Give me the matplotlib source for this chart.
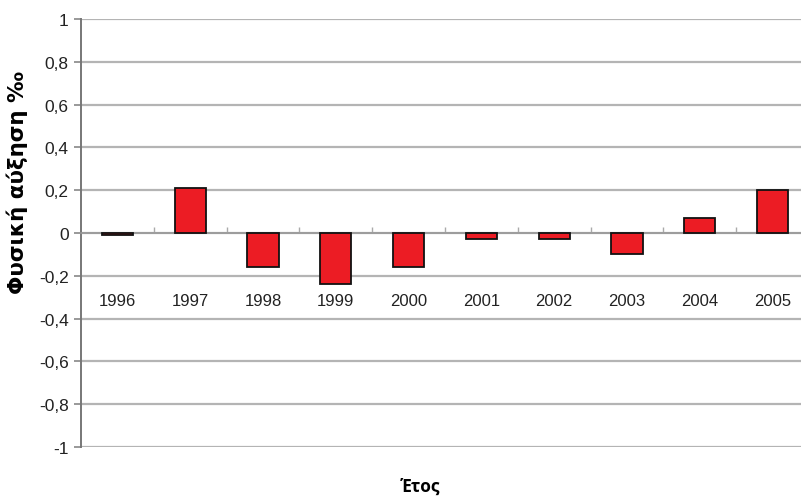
import matplotlib
matplotlib.use("Agg")
import matplotlib.pyplot as plt
from matplotlib.ticker import FuncFormatter, FixedLocator
import numpy as np

# Natural increase per year (per mille)
years = ["1996", "1997", "1998", "1999", "2000",
         "2001", "2002", "2003", "2004", "2005"]
growth = [-0.01, 0.21, -0.16, -0.24, -0.16,
          -0.03, -0.03, -0.10, 0.07, 0.20]

y_ticks = [-1, -0.8, -0.6, -0.4, -0.2, 0, 0.2, 0.4, 0.6, 0.8, 1]

plt.rcParams['font.family'] = ['Liberation Sans', 'DejaVu Sans']

fig = plt.figure(figsize=(8.01, 5.02), dpi=100)
ax = fig.add_axes([81 / 801, 54 / 502, 728 / 801, 428 / 502])

x = np.arange(len(years))
ax.bar(x, growth, width=0.43, color='#ec1c24', edgecolor='#111111',
       linewidth=1.3, zorder=3)

ax.set_xlim(-0.5, len(years) - 0.5)
ax.set_ylim(-1, 1)

# horizontal gridlines
ax.set_yticks(y_ticks)
ax.yaxis.set_major_formatter(
    FuncFormatter(lambda v, p: ('%g' % round(v, 1)).replace('.', ',')))
ax.grid(axis='y', color='#b4b4b4', linewidth=1.6, zorder=0)
ax.tick_params(axis='y', length=5, width=1.2, color='#888888',
               labelsize=12.5, labelcolor='#222222', pad=4)

# category axis at zero, labels pushed below
ax.spines['bottom'].set_position(('data', 0))
ax.spines['bottom'].set_color('#999999')
ax.spines['bottom'].set_linewidth(1.2)
ax.set_xticks(x)
ax.set_xticklabels(years)
ax.xaxis.set_minor_locator(FixedLocator(x[:-1] + 0.5))
ax.tick_params(axis='x', which='major', length=0, pad=43,
               labelsize=12, labelcolor='#222222')
ax.tick_params(axis='x', which='minor', length=4, width=1.0,
               color='#aaaaaa', direction='in')

ax.spines['left'].set_color('#777777')
ax.spines['left'].set_linewidth(1.4)
ax.spines['top'].set_visible(False)
ax.spines['right'].set_visible(False)
ax.axhline(-1, color='#8c8c8c', linewidth=2.0, zorder=1)

ax.set_ylabel('Φυσική αύξηση ‰', fontsize=15.5, fontweight='bold',
              family=['DejaVu Sans'])
ax.yaxis.set_label_coords((28 - 81) / 728, 0.62)

fig.text(421 / 801, 1 - 487 / 502, 'Έτος', ha='center', va='center',
         fontsize=12.5, fontweight='bold', family=['Open Sans', 'DejaVu Sans'])

fig.savefig('out.png', dpi=100)
